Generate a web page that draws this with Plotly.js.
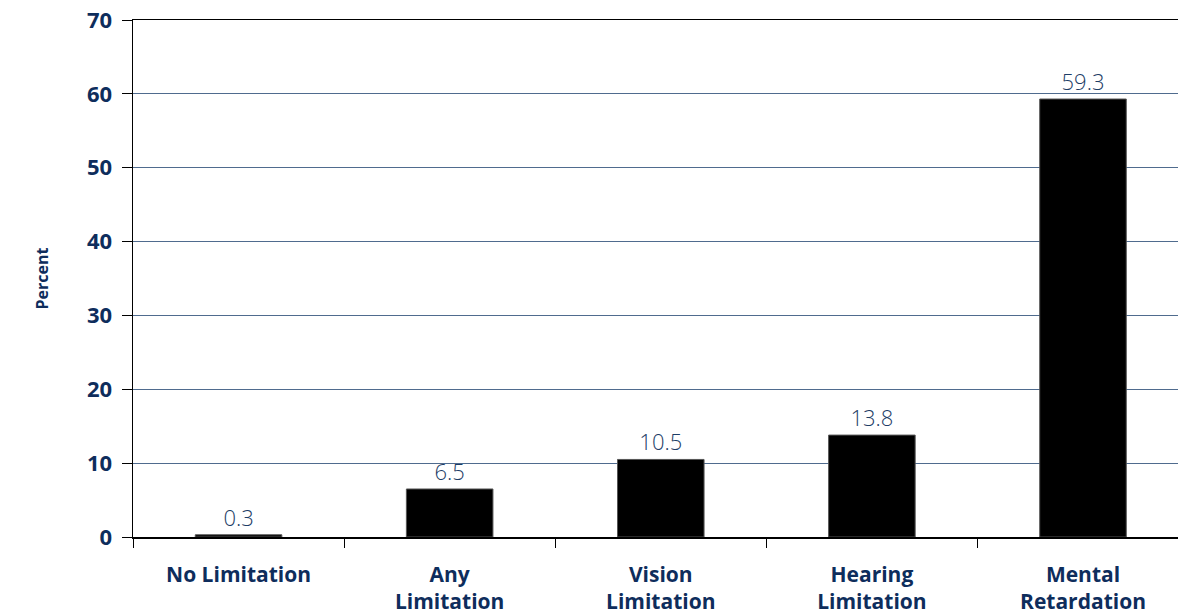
<!DOCTYPE html>
<html><head><meta charset="utf-8">
<script src="https://cdn.plot.ly/plotly-3.0.1.min.js"></script>
<style>html,body{margin:0;padding:0;background:#fff;}</style>
</head><body>
<div id="chart" style="width:1178px;height:611px;"></div>
<script>
const categories = ["No Limitation", "Any<br>Limitation", "Vision<br>Limitation", "Hearing<br>Limitation", "Mental<br>Retardation"];
const percentValues = [0.3, 6.5, 10.5, 13.8, 59.3];
const valueLabels = ["0.3", "6.5", "10.5", "13.8", "59.3"];
const yTickValues = [0, 10, 20, 30, 40, 50, 60, 70];

const navy = "#0e2d5c";
const trace = {
  type: "bar",
  x: categories,
  y: percentValues,
  text: valueLabels,
  textposition: "outside",
  cliponaxis: false,
  textfont: {family: "Open Sans, sans-serif", size: 22, color: "#1d3d66", weight: 300},
  marker: {color: "#000000", line: {color: "#555555", width: 1}},
  width: 0.41,
  hoverinfo: "none"
};
const layout = {
  width: 1178, height: 611,
  margin: {l: 133, r: 0, t: 20, b: 74},
  paper_bgcolor: "#ffffff", plot_bgcolor: "#ffffff",
  showlegend: false,
  xaxis: {
    type: "category",
    range: [-0.5, 4.45],
    tickson: "boundaries",
    ticks: "outside", ticklen: 9, tickcolor: "#000", tickwidth: 1,
    ticklabelstandoff: 18,
    showline: true, linecolor: "#000", linewidth: 1.5, mirror: true,
    showgrid: false, zeroline: false,
    tickfont: {family: "Open Sans, sans-serif", size: 21, color: navy, weight: "bold"}
  },
  yaxis: {
    range: [0, 70],
    tickvals: yTickValues,
    ticktext: yTickValues.map(String),
    ticks: "outside", ticklen: 10, tickcolor: "#000", tickwidth: 1,
    ticklabelstandoff: 5,
    showline: true, linecolor: "#000", linewidth: 1.5,
    showgrid: true, gridcolor: "#4f6b8e", gridwidth: 1,
    zeroline: false,
    tickfont: {family: "Open Sans, sans-serif", size: 22, color: navy, weight: "bold"},
    title: {text: "Percent", standoff: 34, font: {family: "Open Sans, sans-serif", size: 16, color: navy, weight: "bold"}}
  }
};
Plotly.newPlot("chart", [trace], layout, {displayModeBar: false, staticPlot: true});
</script>
</body></html>
